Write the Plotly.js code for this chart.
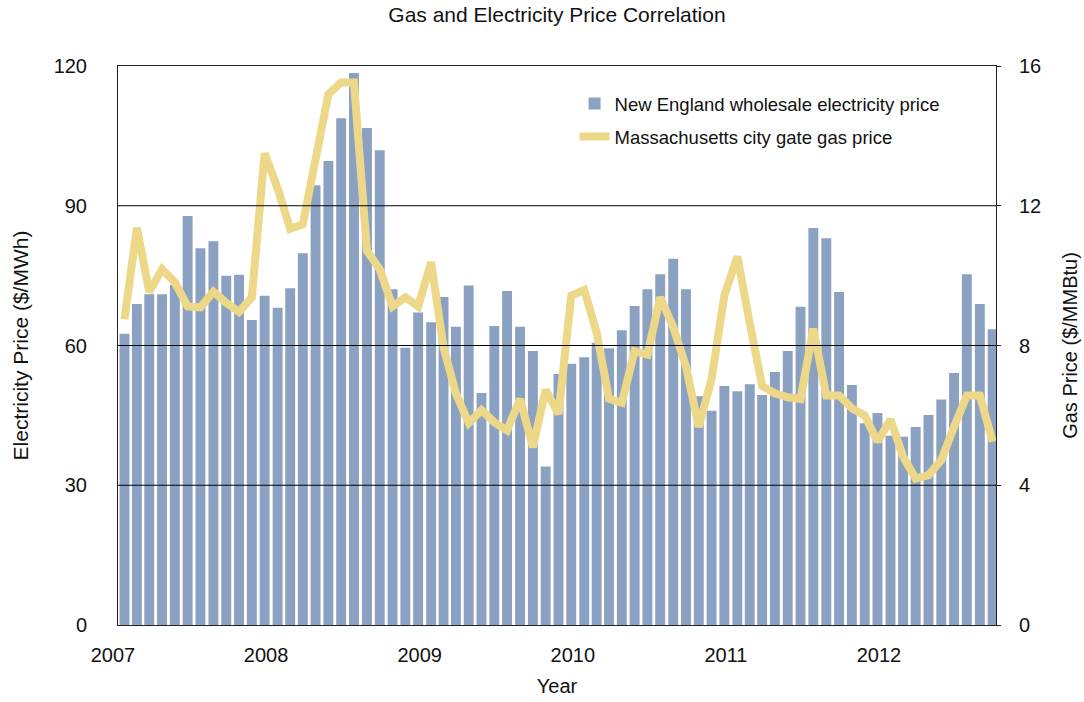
<!DOCTYPE html>
<html>
<head>
<meta charset="utf-8">
<script src="https://cdn.plot.ly/plotly-3.0.1.min.js"></script>
<style>html,body{margin:0;padding:0;background:#fff;}#chart{width:1084px;height:702px;}</style>
</head>
<body>
<div id="chart"></div>
<script>
// Months (monthly observations)
var months = [
 '2007-01','2007-02','2007-03','2007-04','2007-05','2007-06','2007-07','2007-08','2007-09','2007-10','2007-11','2007-12',
 '2008-01','2008-02','2008-03','2008-04','2008-05','2008-06','2008-07','2008-08','2008-09','2008-10','2008-11','2008-12',
 '2009-01','2009-02','2009-03','2009-04','2009-05','2009-06','2009-07','2009-08','2009-09','2009-10','2009-11','2009-12',
 '2010-01','2010-02','2010-03','2010-04','2010-05','2010-06','2010-07','2010-08','2010-09','2010-10','2010-11','2010-12',
 '2011-01','2011-02','2011-03','2011-04','2011-05','2011-06','2011-07','2011-08','2011-09','2011-10','2011-11','2011-12',
 '2012-01','2012-02','2012-03','2012-04','2012-05','2012-06','2012-07','2012-08','2012-09'
];

// New England wholesale electricity price ($/MWh)
var electricityPrice = [
 62.5, 68.9, 71.0, 71.0, 73.0, 87.8, 80.9, 82.4, 75.0, 75.2, 65.5, 70.7,
 68.1, 72.3, 79.8, 94.4, 99.6, 108.8, 118.5, 106.7, 101.9, 72.1, 59.5, 67.1,
 65.0, 70.4, 64.0, 72.9, 49.8, 64.2, 71.7, 64.0, 58.8, 34.0, 53.9, 56.1,
 57.5, 60.6, 59.4, 63.3, 68.5, 72.1, 75.3, 78.6, 72.1, 49.1, 46.0, 51.3,
 50.2, 51.7, 49.4, 54.3, 58.8, 68.3, 85.2, 83.0, 71.5, 51.5, 43.3, 45.5,
 40.6, 40.4, 42.5, 45.1, 48.4, 54.1, 75.3, 68.9, 63.5
];

// Massachusetts city gate gas price ($/MMBtu)
var gasPrice = [
 8.75, 11.37, 9.54, 10.18, 9.81, 9.12, 9.09, 9.54, 9.22, 8.96, 9.38, 13.5,
 12.5, 11.34, 11.47, 13.3, 15.19, 15.53, 15.53, 10.71, 10.18, 9.12, 9.38, 9.12,
 10.39, 7.95, 6.63, 5.78, 6.15, 5.8, 5.57, 6.47, 5.09, 6.73, 6.04, 9.43,
 9.59, 8.37, 6.47, 6.36, 7.84, 7.74, 9.38, 8.53, 7.4, 5.67, 7.05, 9.43,
 10.55, 8.64, 6.84, 6.63, 6.52, 6.47, 8.48, 6.57, 6.57, 6.2, 6.0, 5.25,
 5.88, 4.82, 4.19, 4.29, 4.72, 5.67, 6.57, 6.57, 5.25
];

var elecTicks = [0, 30, 60, 90, 120];
var gasTicks = [0, 4, 8, 12, 16];

var FONT = '"Liberation Sans", Arial, Helvetica, sans-serif';

var traces = [
  {
    type: 'bar',
    name: 'New England wholesale electricity price',
    x: months,
    y: electricityPrice,
    xperiod: 'M1',
    xperiodalignment: 'middle',
    marker: {color: '#8BA1C1', line: {width: 0}},
    yaxis: 'y',
    legendgroup: 'a',
    hoverinfo: 'x+y'
  },
  {
    type: 'scatter',
    mode: 'lines',
    name: 'Massachusetts city gate gas price',
    x: months,
    y: gasPrice,
    xperiod: 'M1',
    xperiodalignment: 'middle',
    line: {color: '#EDD889', width: 8, shape: 'linear'},
    yaxis: 'y2',
    legendgroup: 'b',
    hoverinfo: 'x+y'
  }
];

// horizontal gridlines drawn above the bars (as in the reference)
var gridShapes = elecTicks.filter(function (v) { return v > 0 && v < 120; }).map(function (v) {
  return {type: 'line', xref: 'paper', x0: 0, x1: 1, yref: 'y', y0: v, y1: v,
          line: {color: '#000', width: 1}, layer: 'above'};
});

var layout = {
  width: 1084,
  height: 702,
  margin: {l: 118, r: 88, t: 66, b: 77, pad: 0},
  paper_bgcolor: '#fff',
  plot_bgcolor: '#fff',
  font: {family: FONT, color: '#111', size: 19},
  title: {
    text: 'Gas and Electricity Price Correlation',
    font: {family: FONT, size: 21, color: '#111'},
    xref: 'paper', x: 0.5, xanchor: 'center',
    yref: 'container', y: 0.979, yanchor: 'middle'
  },
  bargap: 0.2,
  showlegend: true,
  legend: {
    x: 0.52, xanchor: 'left',
    y: 0.966, yanchor: 'top',
    bgcolor: 'rgba(255,255,255,0)',
    borderwidth: 0,
    font: {family: FONT, size: 18.5, color: '#111'},
    tracegroupgap: 6,
    traceorder: 'grouped'
  },
  xaxis: {
    type: 'date',
    range: ['2007-01-01', '2012-09-24'],
    tick0: '2007-01-01',
    dtick: 'M12',
    tickformat: '%Y',
    ticks: '',
    ticklabelshift: -5,
    ticklabelstandoff: 12,
    showgrid: false,
    zeroline: false,
    showline: true,
    linecolor: '#222',
    linewidth: 1,
    mirror: true,
    tickfont: {family: FONT, size: 20, color: '#111'},
    title: {text: 'Year', font: {family: FONT, size: 20, color: '#111'}, standoff: 13}
  },
  yaxis: {
    range: [0, 120],
    tickvals: elecTicks,
    ticks: '',
    ticklabelstandoff: 26,
    showgrid: false,
    zeroline: false,
    showline: true,
    linecolor: '#222',
    linewidth: 1,
    tickfont: {family: FONT, size: 20, color: '#111'},
    title: {text: 'Electricity Price ($/MWh)', font: {family: FONT, size: 21, color: '#111'}, standoff: 19}
  },
  yaxis2: {
    range: [0, 16],
    tickvals: gasTicks,
    overlaying: 'y',
    side: 'right',
    ticks: 'outside',
    ticklen: 4,
    tickcolor: '#222',
    ticklabelstandoff: 14,
    showgrid: false,
    zeroline: false,
    showline: true,
    linecolor: '#222',
    linewidth: 1,
    tickfont: {family: FONT, size: 20, color: '#111'},
    title: {text: 'Gas Price ($/MMBtu)', font: {family: FONT, size: 20, color: '#111'}, standoff: 22}
  },
  shapes: gridShapes
};

Plotly.newPlot('chart', traces, layout, {displayModeBar: false, staticPlot: true});
</script>
</body>
</html>
